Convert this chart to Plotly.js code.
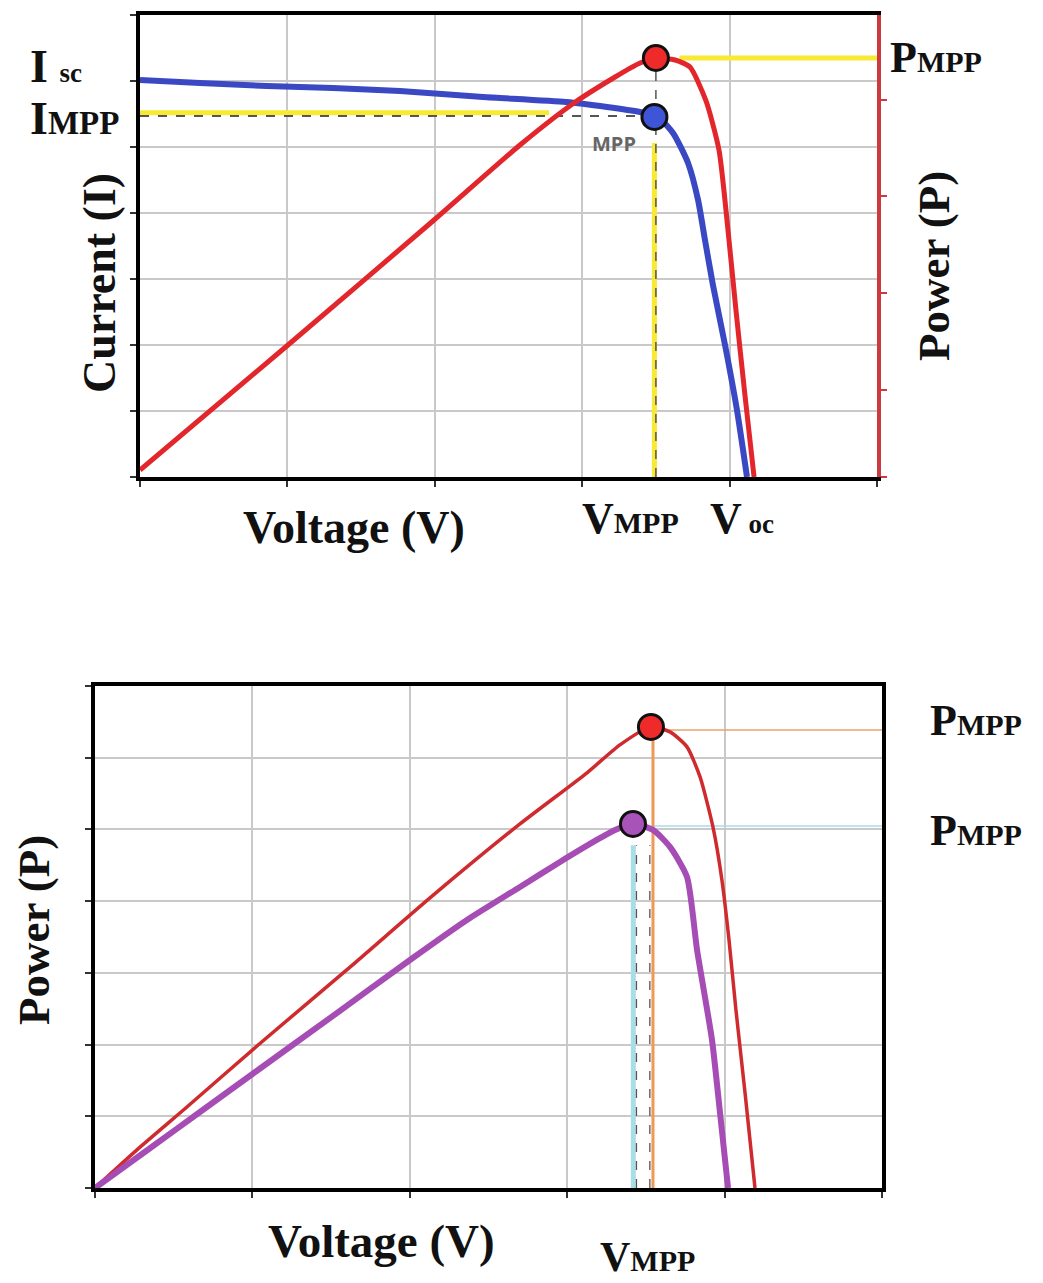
<!DOCTYPE html>
<html>
<head>
<meta charset="utf-8">
<script src="https://cdn.plot.ly/plotly-3.0.1.min.js"></script>
<style>
  html, body { margin: 0; padding: 0; background: #ffffff; }
  #chart { width: 1043px; height: 1283px; }
</style>
</head>
<body>
<div id="chart"></div>
<script>
// ---------- Top chart: I-V and P-V curves ----------
const topVoltageI = [0.000, 0.407, 0.862, 1.309, 1.764, 2.327, 2.890, 3.168, 3.392, 3.507, 3.616, 3.718, 3.786, 3.833, 3.887, 3.969, 4.050, 4.118];
const topCurrent  = [6.015, 5.970, 5.924, 5.894, 5.848, 5.758, 5.682, 5.606, 5.530, 5.470, 5.212, 4.758, 4.197, 3.591, 2.909, 2.000, 1.015, 0.000];

const topVoltageP = [0.000, 1.004, 1.995, 2.578, 2.944, 3.223, 3.392, 3.507, 3.630, 3.731, 3.840, 3.928, 3.989, 4.043, 4.104, 4.166];
const topPower    = [1.5, 28.57, 55.63, 71.86, 80.95, 86.58, 89.61, 90.69, 90.26, 88.74, 81.39, 70.78, 53.46, 36.15, 17.75, 0.0];

const topVmpp = 3.49;      // voltage at MPP
const topImpp = 5.455;     // current at MPP (blue dot)
const topImppLine = 5.52;  // yellow I_MPP guide level
const topPmpp = 90.7;      // power at MPP (right axis units)
const topYellowHEnd = 2.775;   // where yellow I_MPP guide stops
const topDashHEnd = 3.45;      // where dashed I_MPP guide stops
const topPmppLineStart = 3.66; // yellow P_MPP guide start
const topYellowVTop = 5.06;    // top of yellow V_MPP guide (current units)
const topDashVTop = 6.3;       // top of dashed V_MPP guide (current units)
const topPowerTicks = [0, 18.8, 39.8, 60.8, 81.6];

// ---------- Bottom chart: two P-V curves ----------
const botVoltage1 = [0.000, 0.286, 0.584, 1.029, 1.620, 2.147, 2.700, 3.126, 3.335, 3.532, 3.653, 3.761, 3.844, 3.926, 3.983, 4.028, 4.072, 4.130, 4.193];
const botPower1   = [0.000, 0.570, 1.130, 1.980, 3.080, 4.080, 5.077, 5.790, 6.179, 6.430, 6.360, 6.151, 5.732, 5.035, 4.296, 3.459, 2.483, 1.325, 0.000];

const botVoltage2 = [0.000, 0.349, 0.667, 1.029, 1.512, 2.001, 2.363, 2.700, 2.954, 3.177, 3.304, 3.418, 3.545, 3.653, 3.761, 3.825, 3.920, 3.971, 4.022];
const botPower2   = [0.000, 0.555, 1.060, 1.635, 2.400, 3.180, 3.738, 4.198, 4.547, 4.840, 4.993, 5.077, 4.993, 4.756, 4.338, 3.319, 2.064, 1.046, 0.000];

const botVmpp1 = 3.532, botPmpp1 = 6.43;
const botVmpp2 = 3.418, botPmpp2 = 5.077;
const botOrangeX = 3.545, botOrangeY = 6.388, botOrangeHStart = 3.59;
const botCyanX = 3.42, botCyanY = 5.049, botCyanHStart = 3.53, botVTop2 = 4.78;

const W = 1043, H = 1283;
const px = v => v / W;
const py = v => (H - v) / H;

const serif = 'Liberation Serif, Times New Roman, serif';
const yellow = '#f7e934';
const dashCol = '#555555';

function line(x, y, color, width, axes, dash, smooth) {
  const l = { color: color, width: width, dash: dash || 'solid' };
  if (smooth) { l.shape = 'spline'; l.smoothing = smooth; }
  return { type: 'scatter', mode: 'lines', x: x, y: y, xaxis: axes[0], yaxis: axes[1],
    line: l, hoverinfo: 'skip', showlegend: false };
}
function dot(x, y, color, axes) {
  return { type: 'scatter', mode: 'markers', x: [x], y: [y], xaxis: axes[0], yaxis: axes[1],
    marker: { color: color, size: 25, line: { color: '#111111', width: 3 } }, hoverinfo: 'skip', showlegend: false, cliponaxis: false };
}

const T = ['x', 'y'], T2 = ['x', 'y2'], B = ['x2', 'y3'];

const traces = [
  // top guides
  line([0, topYellowHEnd], [topImppLine, topImppLine], yellow, 5, T),
  line([0, topDashHEnd], [topImppLine - 0.05, topImppLine - 0.05], dashCol, 2, T, 'dash'),
  line([topVmpp, topVmpp], [0, topYellowVTop], yellow, 5, T),
  line([topVmpp + 0.01, topVmpp + 0.01], [0, topDashVTop], dashCol, 1.5, T, 'dash'),
  line([topPmppLineStart, 5], [topPmpp, topPmpp], yellow, 5, T2),
  // top curves
  line(topVoltageI, topCurrent, '#3b48c4', 6, T, null, 0.6),
  line(topVoltageP, topPower, '#e3262b', 5, T2, null, 0.6),
  dot(topVmpp, topImpp, '#3d55d6', T),
  dot(topVmpp + 0.01, topPmpp, '#ee2a2a', T2),

  // bottom guides
  line([botOrangeHStart, 5], [botOrangeY, botOrangeY], '#e9a46b', 1.5, B),
  line([botCyanHStart, 5], [botCyanY, botCyanY], '#a9dde8', 1.5, B),
  line([botCyanX, botCyanX], [0, botVTop2], '#a9dde8', 5, B),
  line([botCyanX + 0.02, botCyanX + 0.02], [0, botVTop2], dashCol, 1.3, B, 'dash'),
  line([botOrangeX, botOrangeX], [0, botPmpp1], '#ec9a55', 3, B),
  line([botOrangeX - 0.02, botOrangeX - 0.02], [0, botVTop2], dashCol, 1.3, B, 'dash'),
  // bottom curves
  line(botVoltage1, botPower1, '#cf2b2e', 3.5, B, null, 0.6),
  line(botVoltage2, botPower2, '#a64cb5', 6, B, null, 0.6),
  dot(botVmpp1, botPmpp1, '#ee2a2a', B),
  dot(botVmpp2, botPmpp2, '#a853b8', B)
];

const gridCol = '#c9c9c9';
const baseAxis = {
  showticklabels: false, zeroline: false, showgrid: true, gridcolor: gridCol, gridwidth: 2,
  showline: true, linecolor: '#000000', linewidth: 4,
  ticks: 'outside', ticklen: 6, tickwidth: 2, tickcolor: '#333333', fixedrange: true
};

const annFont = (size, color) => ({ family: serif, size: size, color: color || '#111111', weight: 'bold' });
const sub = s => '<span style="font-size:30px">' + s + '</span>';
const subI = s => '<span style="font-size:33px">' + s + '</span>';
const sub2 = s => '<span style="font-size:27px">' + s + '</span>';

const annotations = [
  // top labels
  { text: 'I ' + sub2('sc'), x: px(28), y: py(66), xref: 'paper', yref: 'paper', xanchor: 'left', yanchor: 'middle', showarrow: false, font: annFont(46) },
  { text: 'I' + subI('MPP'), x: px(28), y: py(119), xref: 'paper', yref: 'paper', xanchor: 'left', yanchor: 'middle', showarrow: false, font: annFont(46) },
  { text: 'P' + sub('MPP'), x: px(888), y: py(57), xref: 'paper', yref: 'paper', xanchor: 'left', yanchor: 'middle', showarrow: false, font: annFont(44) },
  { text: 'V' + sub('MPP'), x: px(580), y: py(518), xref: 'paper', yref: 'paper', xanchor: 'left', yanchor: 'middle', showarrow: false, font: annFont(44) },
  { text: 'V' + sub2(' oc'), x: px(708), y: py(518), xref: 'paper', yref: 'paper', xanchor: 'left', yanchor: 'middle', showarrow: false, font: annFont(44) },
  { text: 'Voltage (V)', x: px(354), y: py(527), xref: 'paper', yref: 'paper', xanchor: 'center', yanchor: 'middle', showarrow: false, font: annFont(46) },
  { text: 'Current (I)', x: px(100), y: py(283), xref: 'paper', yref: 'paper', xanchor: 'center', yanchor: 'middle', textangle: -90, showarrow: false, font: annFont(46) },
  { text: 'Power (P)', x: px(934), y: py(266), xref: 'paper', yref: 'paper', xanchor: 'center', yanchor: 'middle', textangle: -90, showarrow: false, font: annFont(45) },
  { text: 'MPP', x: px(614), y: py(143), xref: 'paper', yref: 'paper', xanchor: 'center', yanchor: 'middle', showarrow: false,
    font: { family: 'Open Sans, DejaVu Sans, sans-serif', size: 20, color: '#666666', weight: 'bold' } },
  // bottom labels
  { text: 'P' + sub('MPP'), x: px(928), y: py(721), xref: 'paper', yref: 'paper', xanchor: 'left', yanchor: 'middle', showarrow: false, font: annFont(44) },
  { text: 'P' + sub('MPP'), x: px(928), y: py(830), xref: 'paper', yref: 'paper', xanchor: 'left', yanchor: 'middle', showarrow: false, font: annFont(44) },
  { text: 'Voltage (V)', x: px(381), y: py(1241), xref: 'paper', yref: 'paper', xanchor: 'center', yanchor: 'middle', showarrow: false, font: annFont(47) },
  { text: 'V' + sub('MPP'), x: px(598), y: py(1282), xref: 'paper', yref: 'paper', xanchor: 'left', yanchor: 'bottom', showarrow: false, font: annFont(42) },
  { text: 'Power (P)', x: px(34), y: py(930), xref: 'paper', yref: 'paper', xanchor: 'center', yanchor: 'middle', textangle: -90, showarrow: false, font: annFont(45) }
];

const layout = {
  width: W, height: H,
  margin: { l: 0, r: 0, t: 0, b: 0, pad: 0 },
  paper_bgcolor: '#ffffff', plot_bgcolor: '#ffffff',
  showlegend: false,
  xaxis: Object.assign({}, baseAxis, { domain: [px(140), px(877)], range: [0, 5], dtick: 1, tick0: 0, anchor: 'y', mirror: true }),
  yaxis: Object.assign({}, baseAxis, { domain: [py(477), py(15)], range: [0, 7], dtick: 1, tick0: 0, anchor: 'x' }),
  yaxis2: { overlaying: 'y', side: 'right', anchor: 'x', range: [0, 100], showgrid: false, zeroline: false,
    showline: true, linecolor: '#cc3a3f', linewidth: 4, showticklabels: false,
    ticks: 'outside', ticklen: 6, tickwidth: 2, tickcolor: '#cc3a3f', tickmode: 'array', tickvals: topPowerTicks, fixedrange: true },
  xaxis2: Object.assign({}, baseAxis, { domain: [px(95), px(882)], range: [0, 5], dtick: 1, tick0: 0, anchor: 'y3', mirror: true }),
  yaxis3: Object.assign({}, baseAxis, { domain: [py(1188), py(686)], range: [0, 7], dtick: 1, tick0: 0, anchor: 'x2', mirror: true }),
  annotations: annotations
};

Plotly.newPlot('chart', traces, layout, { staticPlot: true, displayModeBar: false });
</script>
</body>
</html>
